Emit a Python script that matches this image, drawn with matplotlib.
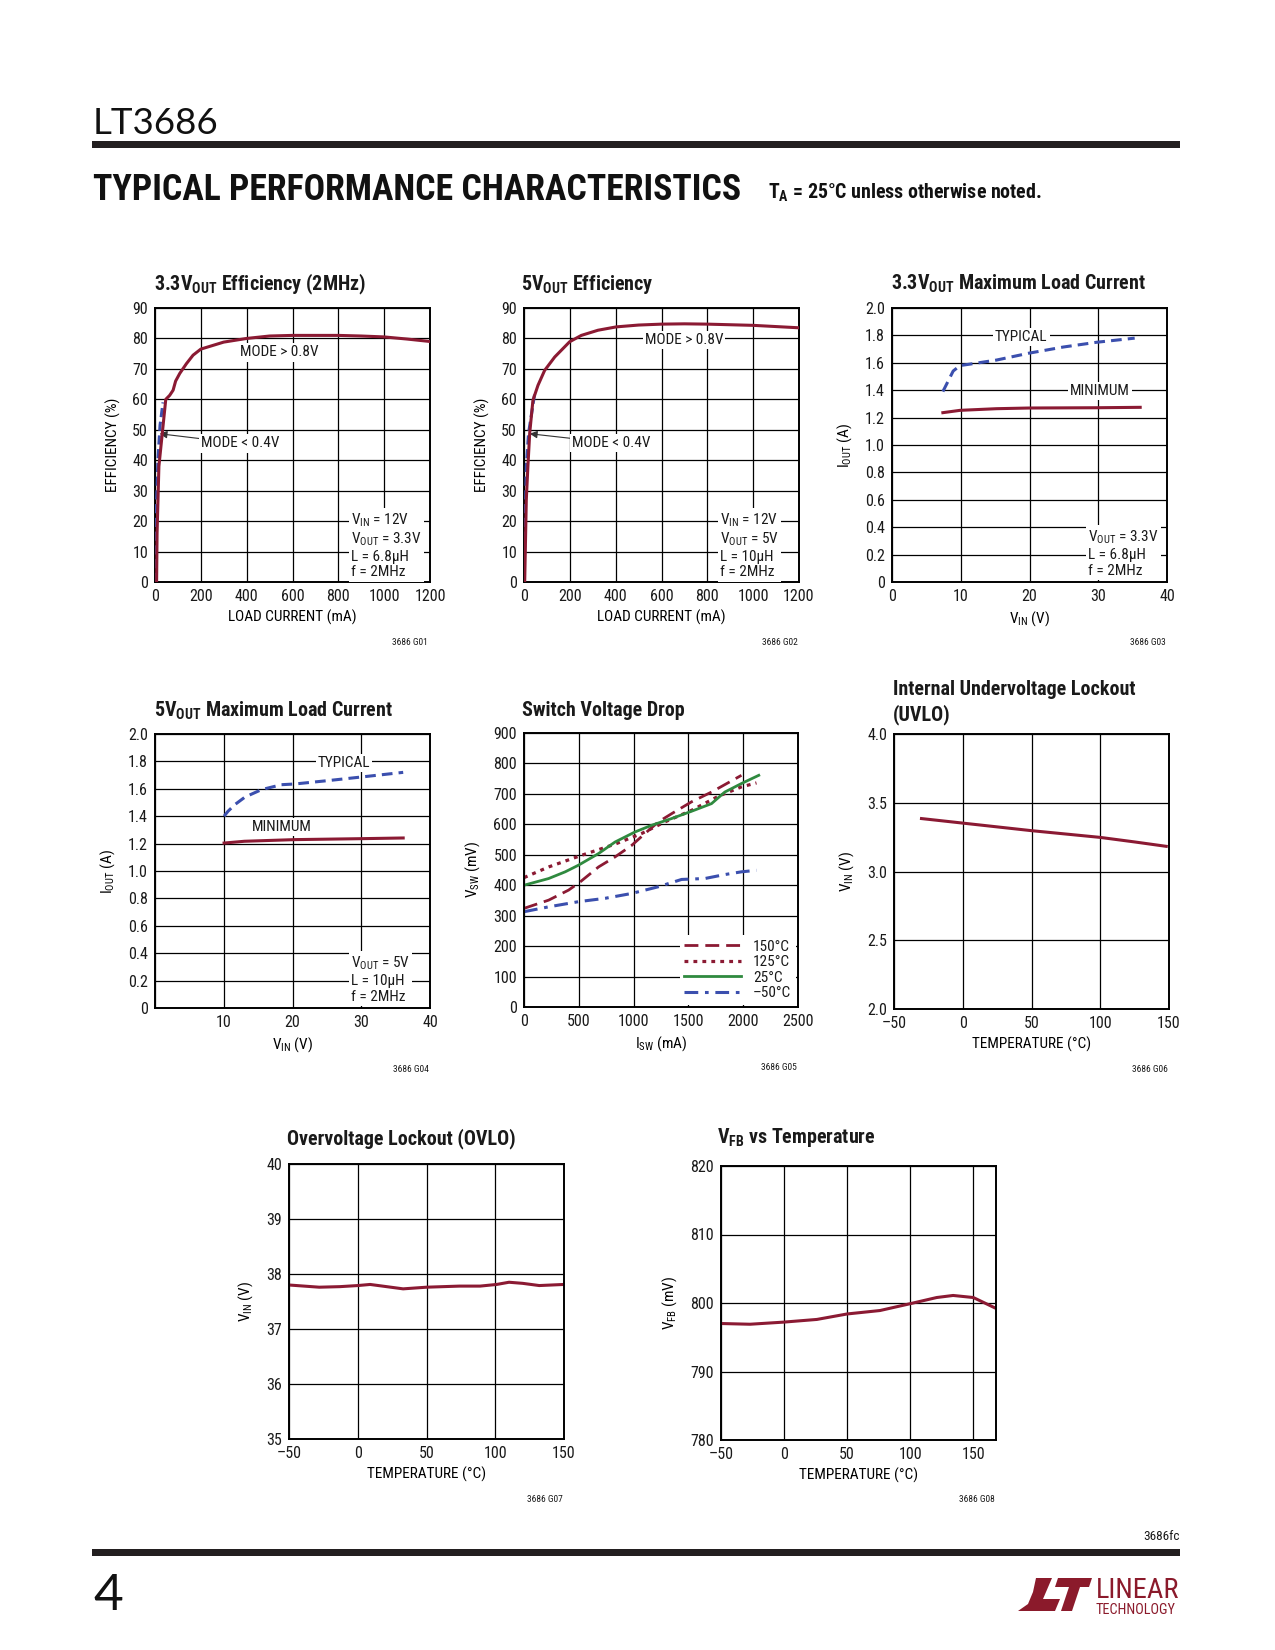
import matplotlib.pyplot as plt
from matplotlib import font_manager
from matplotlib.patches import Rectangle, Polygon

# page size in pixels (dpi 100)
W, H = 1275, 1650

# pick the narrowest sans family that is installed
_names = {f.name for f in font_manager.fontManager.ttflist}
NARROW = next((n for n in ['Liberation Sans Narrow', 'Arial Narrow', 'Roboto Condensed',
                           'Open Sans Condensed', 'Liberation Sans', 'Arimo']
               if n in _names), 'DejaVu Sans')

plt.rcParams['font.family'] = [NARROW, 'DejaVu Sans']
plt.rcParams['mathtext.fontset'] = 'custom'
plt.rcParams['mathtext.rm'] = NARROW
plt.rcParams['mathtext.it'] = NARROW
plt.rcParams['mathtext.bf'] = NARROW + ':bold'
plt.rcParams['text.color'] = '#1a1a1a'

RED = '#8b1a33'
BLUE = '#3b4fae'
GREEN = '#2f8a3f'

# ---- data ----
# 3.3Vout efficiency (2MHz)
eff33_ma = [7, 9, 17, 32, 47, 64, 79, 90, 108, 137, 166, 200, 300, 400, 500, 600, 700, 800, 900, 1000, 1100, 1200]
eff33_pct = [0, 16, 38, 49, 60, 61.3, 63, 66, 68.5, 71.7, 74.5, 76.5, 78.8, 80, 80.8, 81, 81, 81, 80.8, 80.5, 79.8, 79]
eff33_low_ma = [3, 7, 13, 22, 35]
eff33_low_pct = [0, 27, 40.5, 51.5, 59]

# 5Vout efficiency
eff5_ma = [3, 10, 17, 25, 39, 61, 90, 134, 199, 250, 323, 403, 500, 600, 700, 800, 900, 1000, 1100, 1200]
eff5_pct = [0, 27, 38, 49, 59.7, 64.6, 69.5, 73.9, 78.9, 81, 82.7, 83.8, 84.4, 84.7, 84.8, 84.7, 84.5, 84.3, 83.9, 83.5]
eff5_low_ma = [0, 10, 20, 47]
eff5_low_pct = [0, 38, 49, 62]

# 3.3Vout maximum load current
vin33_typ = [7.4, 8.2, 8.9, 9.9, 11.3, 15.2, 19.9, 24.9, 29.8, 35.3]
iout33_typ = [1.39, 1.47, 1.54, 1.58, 1.59, 1.62, 1.67, 1.715, 1.75, 1.78]
vin33_min = [7.4, 9.9, 15.2, 20, 29.8, 36.1]
iout33_min = [1.236, 1.253, 1.265, 1.27, 1.272, 1.275]

# 5Vout maximum load current
vin5_typ = [10.05, 10.6, 11.6, 13.1, 15.5, 18.4, 20.3, 25.2, 30, 36.1]
iout5_typ = [1.40, 1.435, 1.484, 1.54, 1.594, 1.63, 1.635, 1.66, 1.686, 1.72]
vin5_min = [10.05, 13, 20.3, 30, 36.1]
iout5_min = [1.204, 1.217, 1.229, 1.236, 1.241]

# switch voltage drop
isw_150 = [0, 225, 407, 513, 680, 831, 983, 1104, 1226, 1347, 1529, 1711, 1984]
vsw_150 = [324, 351, 384, 411, 460, 493, 531, 570, 608, 635, 674, 706, 761]
isw_125 = [0, 225, 498, 831, 1074, 1286, 1529, 1772, 1984, 2121]
vsw_125 = [425, 460, 495, 535, 570, 608, 646, 692, 723, 736]
isw_25 = [0, 225, 376, 498, 680, 831, 1013, 1165, 1347, 1529, 1711, 1832, 1984, 2142]
vsw_25 = [400, 422, 444, 466, 504, 542, 575, 597, 619, 643, 668, 706, 734, 761]
isw_m50 = [0, 225, 498, 740, 983, 1226, 1438, 1650, 1832, 1984, 2121]
vsw_m50 = [313, 329, 346, 357, 373, 395, 419, 422, 435, 444, 449]
vsw_labels = ['150°C', '125°C', '25°C', '–50°C']

# UVLO
uvlo_t = [-30, 0, 50, 100, 125, 148]
uvlo_v = [3.385, 3.352, 3.297, 3.248, 3.215, 3.183]

# OVLO
ovlo_t = [-50, -28, -13, 0, 9, 18, 33, 50, 74, 89, 101, 110, 120, 132, 150]
ovlo_v = [37.80, 37.76, 37.77, 37.79, 37.81, 37.78, 37.73, 37.76, 37.78, 37.78, 37.81, 37.85, 37.83, 37.79, 37.81]

# VFB vs temperature
vfb_t = [-49, -27, -1, 26, 50, 76, 100, 121, 134, 150, 167]
vfb_mv = [797.0, 796.9, 797.2, 797.6, 798.4, 798.9, 799.9, 800.8, 801.1, 800.8, 799.3]

temp_ticks = [-50, 0, 50, 100, 150]
temp_labels = ['–50', '0', '50', '100', '150']

fig = plt.figure(figsize=(W / 100, H / 100), dpi=100)
renderer = fig.canvas.get_renderer()


def px_axes(l, t, r, b):
    return fig.add_axes([l / W, 1 - b / H, (r - l) / W, (b - t) / H])


def fx(x):
    return x / W


def fy(y):
    return 1 - y / H


def fit_width(t, width):
    # scale a text's font size so that it spans `width` pixels
    w = t.get_window_extent(renderer).width
    t.set_fontsize(t.get_fontsize() * width / w)


def setup(ax, xlim, ylim, xt, xtl, yt, ytl, xlabel, ylabel):
    ax.set_xlim(xlim)
    ax.set_ylim(ylim)
    ax.set_xticks(xt)
    ax.set_xticklabels(xtl)
    ax.set_yticks(yt)
    ax.set_yticklabels(ytl)
    ax.grid(True, color='black', lw=0.9)
    ax.set_axisbelow(True)
    ax.tick_params(length=0, labelsize=11.5, pad=5, labelcolor='#1a1a1a')
    for s in ax.spines.values():
        s.set_linewidth(1.4)
    ax.set_xlabel(xlabel, fontsize=11, labelpad=4)
    ax.set_ylabel(ylabel, fontsize=11, labelpad=8)


def title(x, y, txt):
    fig.text(fx(x), fy(y), txt, fontsize=14.4, fontweight='bold', va='baseline', ha='left')


def code(x, y, txt):
    fig.text(fx(x), fy(y), txt, fontsize=6.8, ha='right', va='center')


WB = dict(facecolor='white', edgecolor='none', pad=1.5)
FS = 11

# ---- G01 ----
ax = px_axes(155, 308, 430, 582)
setup(ax, (0, 1200), (0, 90), range(0, 1201, 200), ['0', '200', '400', '600', '800', '1000', '1200'],
      range(0, 91, 10), [str(v) for v in range(0, 91, 10)], 'LOAD CURRENT (mA)', 'EFFICIENCY (%)')
ax.plot(eff33_low_ma, eff33_low_pct, color=BLUE, lw=2.2, ls=(0, (3, 1.5)), zorder=3)
ax.plot(eff33_ma, eff33_pct, color=RED, lw=2.2, zorder=4)
ax.text(370, 75.4, 'MODE > 0.8V', fontsize=FS, va='center', bbox=WB)
ax.annotate('MODE < 0.4V', xy=(20, 48.7), xytext=(202, 45.5), fontsize=FS, va='center',
            bbox=WB, arrowprops=dict(arrowstyle='-|>', color='#333333', lw=0.8, shrinkA=0, shrinkB=0))
ax.text(854, 12, 'V$_{\\mathrm{IN}}$ = 12V\nV$_{\\mathrm{OUT}}$ = 3.3V\nL = 6.8µH\nf = 2MHz',
        fontsize=FS, va='center', bbox=WB, linespacing=1.15)
title(154, 290, '3.3V$_{\\mathbf{OUT}}$ Efficiency (2MHz)')
code(428, 642, '3686 G01')

# ---- G02 ----
ax = px_axes(524, 308, 799, 582)
setup(ax, (0, 1200), (0, 90), range(0, 1201, 200), ['0', '200', '400', '600', '800', '1000', '1200'],
      range(0, 91, 10), [str(v) for v in range(0, 91, 10)], 'LOAD CURRENT (mA)', 'EFFICIENCY (%)')
ax.plot(eff5_low_ma, eff5_low_pct, color=BLUE, lw=2.2, ls=(0, (3, 1.5)), zorder=3)
ax.plot(eff5_ma, eff5_pct, color=RED, lw=2.2, zorder=4)
ax.text(527, 79.4, 'MODE > 0.8V', fontsize=FS, va='center', bbox=WB)
ax.annotate('MODE < 0.4V', xy=(25, 48.7), xytext=(210, 45.7), fontsize=FS, va='center',
            bbox=WB, arrowprops=dict(arrowstyle='-|>', color='#333333', lw=0.8, shrinkA=0, shrinkB=0))
ax.text(854, 12, 'V$_{\\mathrm{IN}}$ = 12V\nV$_{\\mathrm{OUT}}$ = 5V\nL = 10µH\nf = 2MHz',
        fontsize=FS, va='center', bbox=WB, linespacing=1.15)
title(521, 290, '5V$_{\\mathbf{OUT}}$ Efficiency')
code(798, 642, '3686 G02')

# ---- G03 ----
ax = px_axes(892, 308, 1167, 582)
setup(ax, (0, 40), (0, 2.0), [0, 10, 20, 30, 40], ['0', '10', '20', '30', '40'],
      [0, 0.2, 0.4, 0.6, 0.8, 1.0, 1.2, 1.4, 1.6, 1.8, 2.0],
      ['0', '0.2', '0.4', '0.6', '0.8', '1.0', '1.2', '1.4', '1.6', '1.8', '2.0'],
      'V$_{\\mathrm{IN}}$ (V)', 'I$_{\\mathrm{OUT}}$ (A)')
ax.plot(vin33_typ, iout33_typ, color=BLUE, lw=2.2, ls=(0, (3.5, 2)), zorder=3)
ax.plot(vin33_min, iout33_min, color=RED, lw=2.2, zorder=4)
ax.text(18.8, 1.79, 'TYPICAL', fontsize=FS, ha='center', va='center', bbox=WB)
ax.text(30.2, 1.392, 'MINIMUM', fontsize=FS, ha='center', va='center', bbox=WB)
ax.text(28.5, 0.21, 'V$_{\\mathrm{OUT}}$ = 3.3V\nL = 6.8µH\nf = 2MHz', fontsize=FS, va='center',
        bbox=WB, linespacing=1.15)
title(891, 290, '3.3V$_{\\mathbf{OUT}}$ Maximum Load Current')
code(1166, 642, '3686 G03')

# ---- G04 ----
ax = px_axes(155, 734, 430, 1008)
setup(ax, (0, 40), (0, 2.0), [0, 10, 20, 30, 40], ['', '10', '20', '30', '40'],
      [0, 0.2, 0.4, 0.6, 0.8, 1.0, 1.2, 1.4, 1.6, 1.8, 2.0],
      ['0', '0.2', '0.4', '0.6', '0.8', '1.0', '1.2', '1.4', '1.6', '1.8', '2.0'],
      'V$_{\\mathrm{IN}}$ (V)', 'I$_{\\mathrm{OUT}}$ (A)')
ax.plot(vin5_typ, iout5_typ, color=BLUE, lw=2.2, ls=(0, (3.5, 2)), zorder=3)
ax.plot(vin5_min, iout5_min, color=RED, lw=2.2, zorder=4)
ax.text(27.5, 1.79, 'TYPICAL', fontsize=FS, ha='center', va='center', bbox=WB)
ax.text(18.4, 1.32, 'MINIMUM', fontsize=FS, ha='center', va='center', bbox=WB)
ax.text(28.5, 0.21, 'V$_{\\mathrm{OUT}}$ = 5V\nL = 10µH\nf = 2MHz', fontsize=FS, va='center',
        bbox=WB, linespacing=1.15)
title(154, 717, '5V$_{\\mathbf{OUT}}$ Maximum Load Current')
code(429, 1069, '3686 G04')

# ---- G05 ----
ax = px_axes(524, 733, 798, 1007)
setup(ax, (0, 2500), (0, 900), range(0, 2501, 500), ['0', '500', '1000', '1500', '2000', '2500'],
      range(0, 901, 100), [str(v) for v in range(0, 901, 100)],
      'I$_{\\mathrm{SW}}$ (mA)', 'V$_{\\mathrm{SW}}$ (mV)')
l1, = ax.plot(isw_150, vsw_150, color=RED, lw=2, ls=(0, (5, 2.5)))
l2, = ax.plot(isw_125, vsw_125, color=RED, lw=2.3, ls=(0, (1.2, 1.6)))
l3, = ax.plot(isw_25, vsw_25, color=GREEN, lw=2)
l4, = ax.plot(isw_m50, vsw_m50, color=BLUE, lw=2.2, ls=(0, (4.5, 2.2, 1.2, 2.2)))
ax.legend([l1, l2, l3, l4], vsw_labels, loc='lower right', fontsize=FS, frameon=True,
          facecolor='white', edgecolor='none', framealpha=1, fancybox=False,
          handlelength=3.7, handletextpad=0.8, labelspacing=0.1, borderpad=0.3,
          borderaxespad=0.15)
title(522, 716, 'Switch Voltage Drop')
code(797, 1068, '3686 G05')

# ---- G06 ----
ax = px_axes(894, 734, 1169, 1009)
setup(ax, (-50, 150), (2.0, 4.0), temp_ticks, temp_labels,
      [2.0, 2.5, 3.0, 3.5, 4.0], ['2.0', '2.5', '3.0', '3.5', '4.0'],
      'TEMPERATURE (°C)', 'V$_{\\mathrm{IN}}$ (V)')
ax.plot(uvlo_t, uvlo_v, color=RED, lw=2.2)
fig.text(fx(893), fy(695), 'Internal Undervoltage Lockout', fontsize=14.4, fontweight='bold', va='baseline')
fig.text(fx(893), fy(720), '(UVLO)', fontsize=14.4, fontweight='bold', va='baseline')
code(1168, 1069, '3686 G06')

# ---- G07 ----
ax = px_axes(289, 1164, 564, 1439)
setup(ax, (-50, 150), (35, 40), temp_ticks, temp_labels,
      [35, 36, 37, 38, 39, 40], ['35', '36', '37', '38', '39', '40'],
      'TEMPERATURE (°C)', 'V$_{\\mathrm{IN}}$ (V)')
ax.plot(ovlo_t, ovlo_v, color=RED, lw=2.2)
title(287, 1144, 'Overvoltage Lockout (OVLO)')
code(563, 1499, '3686 G07')

# ---- G08 ----
ax = px_axes(721, 1166, 996, 1440)
setup(ax, (-50, 168), (780, 820), temp_ticks, temp_labels,
      [780, 790, 800, 810, 820], ['780', '790', '800', '810', '820'],
      'TEMPERATURE (°C)', 'V$_{\\mathrm{FB}}$ (mV)')
ax.plot(vfb_t, vfb_mv, color=RED, lw=2.2)
title(717, 1143, 'V$_{\\mathbf{FB}}$ vs Temperature')
code(995, 1500, '3686 G08')

# ---- page header / footer ----
INK = '#111111'
fig.text(fx(93), fy(134), 'LT3686', fontsize=26.5, family=['Lato', 'DejaVu Sans'], fontweight='normal',
         va='baseline', color=INK)
fig.add_artist(Rectangle((fx(92), fy(147.5)), (1180 - 92) / W, 6 / H, transform=fig.transFigure,
                         facecolor='#231f20', edgecolor='none'))
head = fig.text(fx(93), fy(200), 'TYPICAL PERFORMANCE CHARACTERISTICS', fontsize=26,
                fontweight='heavy', va='baseline', color=INK)
fit_width(head, 650)
note = fig.text(fx(768), fy(199), 'T$_{\\mathbf{A}}$ = 25°C unless otherwise noted.', fontsize=11,
                fontweight='bold', va='baseline', color=INK)
fit_width(note, 273)

fig.add_artist(Rectangle((fx(92), fy(1556)), (1180 - 92) / W, 7 / H, transform=fig.transFigure,
                         facecolor='#231f20', edgecolor='none'))
fig.text(fx(1180), fy(1540), '3686fc', fontsize=9.5, ha='right', va='baseline')
fig.text(fx(93), fy(1610), '4', fontsize=37, family=['Lato', 'DejaVu Sans'], fontweight='normal',
         va='baseline', color=INK)

# Linear Technology logo (approximate)
LOGO = '#8b1a2b'
mark_l = [(1036, 1578), (1052, 1578), (1043, 1599), (1060, 1599), (1055, 1611), (1018, 1611),
          (1028, 1604), (1033, 1592)]
mark_t = [(1058, 1578), (1092, 1578), (1089, 1587), (1080, 1587), (1072, 1611), (1061, 1611),
          (1069, 1587), (1055, 1587)]
for pts in (mark_l, mark_t):
    fig.add_artist(Polygon([(fx(x), fy(y)) for x, y in pts], closed=True, transform=fig.transFigure,
                           facecolor=LOGO, edgecolor='none'))
lin = fig.text(fx(1096), fy(1598), 'LINEAR', fontsize=16, color=LOGO, va='baseline')
fit_width(lin, 84)
tech = fig.text(fx(1096), fy(1614), 'TECHNOLOGY', fontsize=6.5, color=LOGO, va='baseline')
fit_width(tech, 80)

fig.savefig('out.png', dpi=100)
